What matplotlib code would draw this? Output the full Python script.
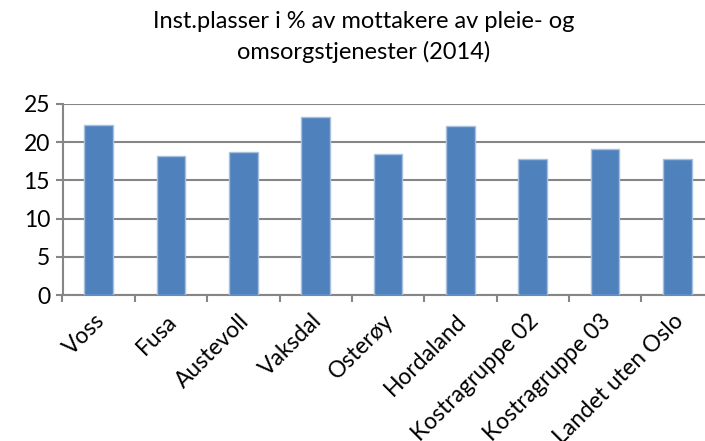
import matplotlib.pyplot as plt
import matplotlib.transforms as mtransforms
import numpy as np

categories = ["Voss", "Fusa", "Austevoll", "Vaksdal", "Osterøy", "Hordaland",
              "Kostragruppe 02", "Kostragruppe 03", "Landet uten Oslo"]
values = [22.2, 18.2, 18.7, 23.3, 18.5, 22.1, 17.8, 19.15, 17.8]
yticks = [0, 5, 10, 15, 20, 25]
title = "Inst.plasser i % av mottakere av pleie- og\nomsorgstjenester (2014)"

plt.rcParams['font.family'] = ['Lato', 'DejaVu Sans']

fig = plt.figure(figsize=(7.05, 4.41), dpi=100)
# plot area runs a little past the right edge, as in the source image
ax = fig.add_axes([62.5 / 705, 1 - 295 / 441, 651 / 705, 191 / 441])

x = np.arange(len(categories))
ax.bar(x, values, width=0.4, color="#4F81BD", edgecolor="#A7C0DE",
       linewidth=1.0, zorder=3)

ax.set_xlim(-0.5, len(categories) - 0.5)
ax.set_ylim(0, 25)
ax.set_yticks(yticks)
ax.set_yticklabels([str(t) for t in yticks], fontsize=16.5)
ax.yaxis.grid(True, color="#868686", linewidth=1.5, zorder=0)

ax.set_xticks(x)
ax.set_xticklabels(categories, rotation=45, ha="right",
                   rotation_mode="anchor", fontsize=16.5)
ax.tick_params(axis="x", which="major", length=0, pad=11)
ax.set_xticks(np.arange(len(categories) + 1) - 0.5, minor=True)
ax.tick_params(axis="x", which="minor", length=5, color="#868686", width=1.5)
ax.tick_params(axis="y", length=5, color="#868686", width=1.5, pad=4)

shift = mtransforms.ScaledTranslation(-5 / 100, 0, fig.dpi_scale_trans)
for lbl in ax.get_xticklabels():
    lbl.set_transform(lbl.get_transform() + shift)

for side in ["top", "right"]:
    ax.spines[side].set_visible(False)
for side in ["left", "bottom"]:
    ax.spines[side].set_color("#868686")
    ax.spines[side].set_linewidth(1.5)

fig.text(364 / 705, 1 - 37 / 441, title, ha="center", va="center",
         fontsize=17, linespacing=1.45)

fig.savefig("out.png", dpi=100)
